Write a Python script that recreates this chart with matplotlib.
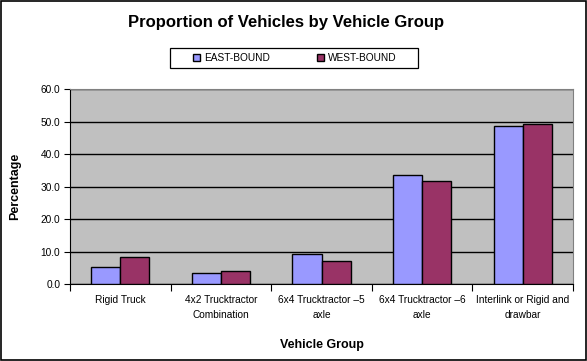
import matplotlib
matplotlib.use("Agg")
import matplotlib.pyplot as plt
import numpy as np

categories = ["Rigid Truck", "4x2 Trucktractor\nCombination", "6x4 Trucktractor \u20135\naxle",
              "6x4 Trucktractor \u20136\naxle", "Interlink or Rigid and\ndrawbar"]
east = [5.1, 3.3, 9.1, 33.5, 48.6]
west = [8.2, 3.9, 7.0, 31.7, 49.3]
series_names = ["EAST-BOUND", "WEST-BOUND"]
yticks = [0, 10, 20, 30, 40, 50, 60]

plt.rcParams['font.family'] = ['Liberation Sans', 'DejaVu Sans']

fig = plt.figure(figsize=(5.87, 3.61), dpi=100)
fig.patch.set_facecolor('white')
# outer border
fig.add_artist(plt.Rectangle((0.0015, 0.002), 0.996, 0.995, transform=fig.transFigure,
                             fill=False, edgecolor='black', linewidth=1.2))

ax = fig.add_axes([70/587, 1-284/361, (573-70)/587, (284-89)/361])
ax.set_facecolor('#c0c0c0')
x = np.arange(len(categories))
w = 0.29
ax.bar(x - w/2, east, w, color='#9999ff', edgecolor='black', linewidth=1, label=series_names[0], zorder=3)
ax.bar(x + w/2, west, w, color='#993366', edgecolor='black', linewidth=1, label=series_names[1], zorder=3)

ax.set_xlim(-0.5, len(categories) - 0.5)
ax.set_ylim(0, 60)
ax.set_yticks(yticks)
ax.set_yticklabels([f"{v:.1f}" for v in yticks], fontsize=7.3)
ax.yaxis.grid(True, color='black', linewidth=1, zorder=1)
ax.set_axisbelow(True)

ax.set_xticks(np.arange(-0.5, len(categories), 1.0))
ax.set_xticklabels([])
ax.set_xticks(x, minor=True)
ax.set_xticklabels(categories, minor=True, fontsize=7.3, linespacing=1.55)
ax.tick_params(axis='x', which='major', length=5, direction='out', color='black')
ax.tick_params(axis='x', which='minor', length=0, pad=8)
ax.tick_params(axis='y', length=4, direction='out', pad=3)

for s in ['top', 'right']:
    ax.spines[s].set_color('#808080')
for s in ['left', 'bottom']:
    ax.spines[s].set_color('black')

ax.set_ylabel("Percentage", fontsize=9, fontweight='bold', labelpad=14)
ax.set_xlabel("Vehicle Group", fontsize=9, fontweight='bold', labelpad=14)

fig.text(286/587, 1-22/361, "Proportion of Vehicles by Vehicle Group", ha='center', va='center',
         fontsize=12, fontweight='bold')

# legend box
fig.add_artist(plt.Rectangle((170/587, 1-68/361), (418-170)/587, 20/361, transform=fig.transFigure,
                             fill=False, edgecolor='black', linewidth=0.9))
leg = fig.legend(loc='center', bbox_to_anchor=(295/587, 1-58/361), ncol=2, fontsize=7.3,
                 frameon=False, handlelength=0.7, handleheight=0.7, handletextpad=0.4,
                 columnspacing=4.6, borderpad=0.3)

fig.savefig("out.png", dpi=100)
